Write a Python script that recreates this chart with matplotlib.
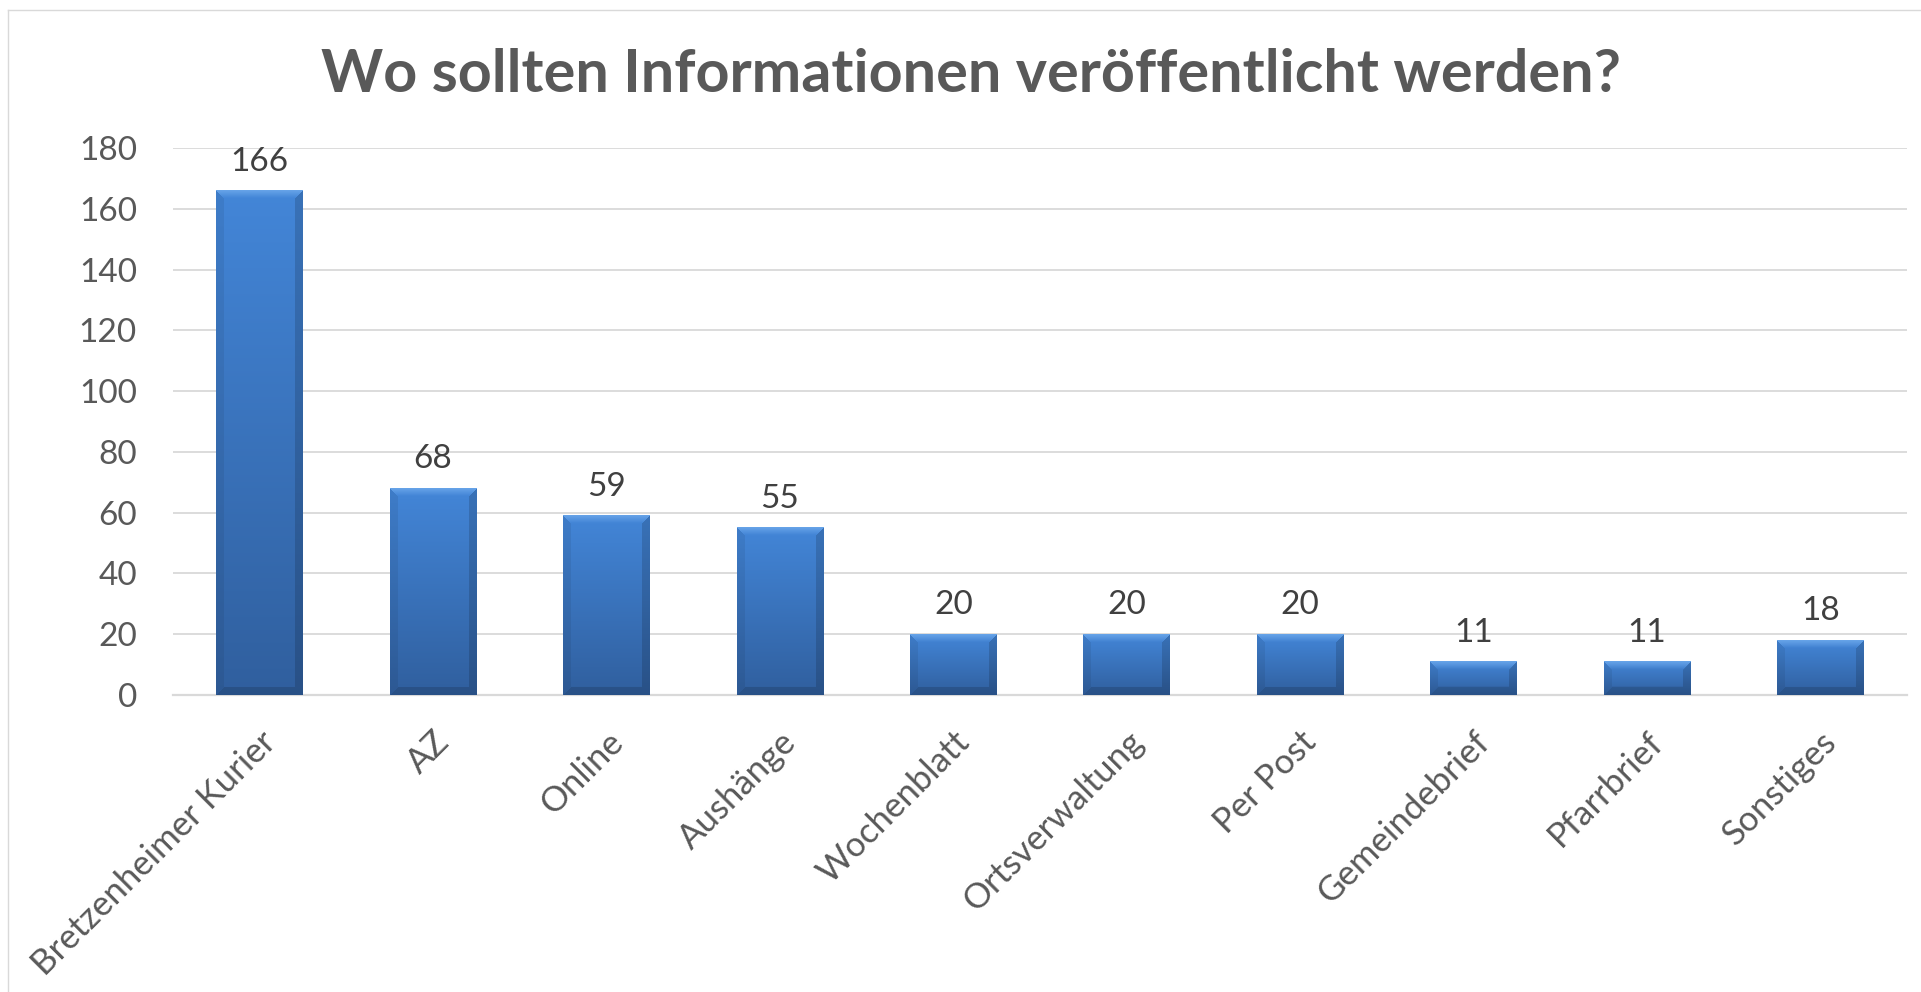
import numpy as np
import matplotlib
matplotlib.use("Agg")
import matplotlib.pyplot as plt
from matplotlib.lines import Line2D

# data
categories = ["Bretzenheimer Kurier", "AZ", "Online", "Aushänge", "Wochenblatt",
              "Ortsverwaltung", "Per Post", "Gemeindebrief", "Pfarrbrief", "Sonstiges"]
counts = [166, 68, 59, 55, 20, 20, 20, 11, 11, 18]
y_ticks = list(range(0, 181, 20))
title = "Wo sollten Informationen veröffentlicht werden?"

plt.rcParams["font.family"] = ["Lato", "DejaVu Sans"]
TEXT = "#595959"
LABEL = "#404040"
GRID = "#d9d9d9"

W, H, DPI = 1921, 992, 100
fig = plt.figure(figsize=(W / DPI, H / DPI), dpi=DPI)
ax_left, ax_right, ax_top, ax_bottom = 173, 1907, 148, 695
ax = fig.add_axes([ax_left / W, 1 - ax_bottom / H, (ax_right - ax_left) / W, (ax_bottom - ax_top) / H])

x = np.arange(len(categories))
bars = ax.bar(x, counts, width=0.5, color="#3a73bd", zorder=2)

px_y = (ax_bottom - ax_top) / 180
px_x = (ax_right - ax_left) / len(categories)


def bar_image(wpx, hpx, bev=8):
    yy, xx = np.mgrid[0:hpx, 0:wpx] + 0.5
    t = (yy / max(hpx, 1))[..., None]
    top = np.array([0x43, 0x86, 0xd8]) / 255
    bot = np.array([0x30, 0x5f, 0x9e]) / 255
    img = top * (1 - t) + bot * t
    dt, db, dl, dr = yy, hpx - yy, xx, wpx - xx
    m = np.minimum(np.minimum(dt, db), np.minimum(dl, dr))
    edge = m < bev
    # top bevel: light highlight
    sel = edge & (dt <= m)
    k = (1 - dt / bev)[..., None]
    light = np.array([0x78, 0xb2, 0xf0]) / 255
    img = np.where(sel[..., None], img * (1 - 0.7 * k) + light * 0.7 * k, img)
    # sides and bottom: slightly darker
    sel = edge & ~(dt <= m) & (dl <= m)
    img = np.where(sel[..., None], img * 0.93, img)
    sel = edge & ~(dt <= m) & (dr <= m)
    img = np.where(sel[..., None], img * 0.85, img)
    sel = edge & (db <= m) & ~(dl <= m) & ~(dr <= m)
    img = np.where(sel[..., None], img * 0.85, img)
    return np.clip(img, 0, 1)


for b in bars:
    x0, w, h = b.get_x(), b.get_width(), b.get_height()
    img = bar_image(int(round(w * px_x)), int(round(h * px_y)))
    ax.imshow(img, extent=(x0, x0 + w, 0, h), aspect="auto", zorder=3,
              interpolation="bilinear")

ax.set_xlim(-0.5, len(categories) - 0.5)
ax.set_ylim(0, 180)
ax.set_yticks(y_ticks)
ax.set_xticks(x, categories, rotation=45, ha="right", rotation_mode="anchor")
ax.tick_params(axis="x", length=0, pad=22, labelsize=25, labelcolor=TEXT)
ax.tick_params(axis="y", length=0, pad=26, labelsize=24, labelcolor=TEXT)
ax.yaxis.grid(True, color=GRID, lw=1.3)
ax.set_axisbelow(True)
for s in ["top", "left", "right"]:
    ax.spines[s].set_visible(False)
ax.spines["bottom"].set_color(GRID)
ax.spines["bottom"].set_linewidth(1.6)

ax.bar_label(bars, padding=10, fontsize=24, color=LABEL)

fig.text(971 / W, 1 - 75 / H, title, ha="center", va="center", fontsize=42.7,
         weight="bold", color=TEXT)

fig.add_artist(Line2D([8 / W, 8 / W], [0, 1 - 10 / H], transform=fig.transFigure,
                      color=GRID, lw=1))
fig.add_artist(Line2D([8 / W, 1], [1 - 10 / H, 1 - 10 / H], transform=fig.transFigure,
                      color=GRID, lw=1))

fig.savefig("out.png", dpi=DPI)
